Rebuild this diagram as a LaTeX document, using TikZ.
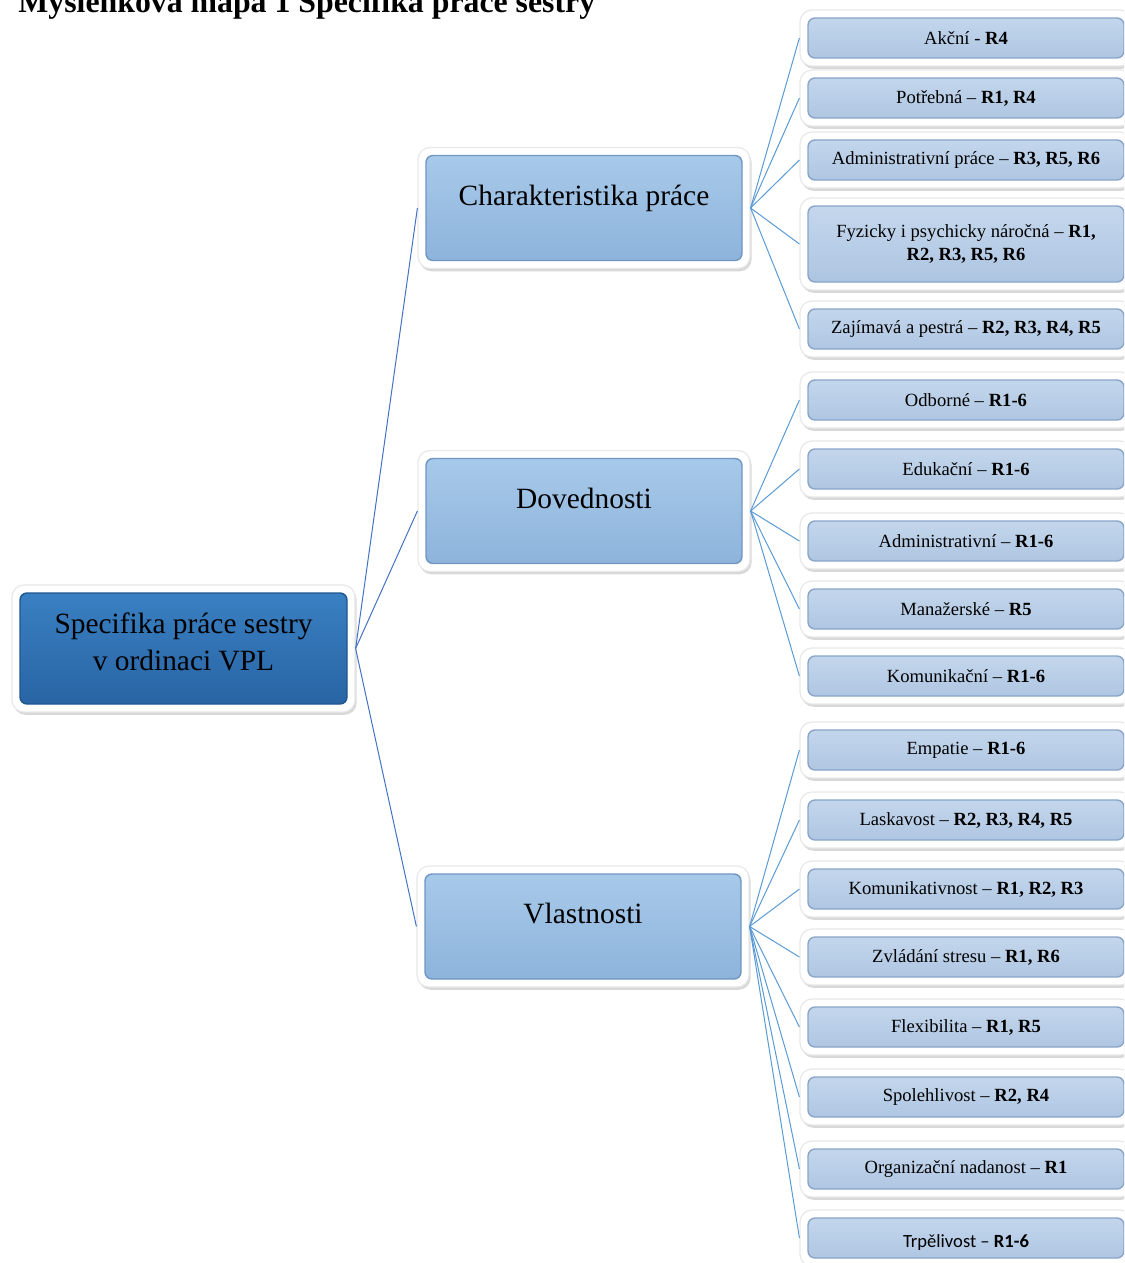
\documentclass[tikz,border=0pt]{standalone}
\usepackage{fontspec}
\setmainfont{Liberation Serif}
\newfontfamily\calibri{Carlito}
\usepackage{xcolor}
\usepackage{tikz}
\usetikzlibrary{shadows}

\definecolor{rootTop}{HTML}{3B82C4}
\definecolor{rootBot}{HTML}{2762A2}
\definecolor{rootLine}{HTML}{1F5690}
\definecolor{mainTop}{HTML}{A9CBEB}
\definecolor{mainBot}{HTML}{8CB2DA}
\definecolor{mainLine}{HTML}{7096C2}
\definecolor{leafTop}{HTML}{C7D9EE}
\definecolor{leafBot}{HTML}{ABC3E0}
\definecolor{leafLine}{HTML}{8AA5C8}
\definecolor{linkA}{HTML}{4472C4}
\definecolor{linkB}{HTML}{5B9BD5}

\begin{document}
\begin{tikzpicture}[x=0.5pt, y=-0.5pt,
  frame/.style={fill=white, draw=black!9, line width=0.6pt, rounded corners=6pt, align=center, inner sep=2pt,
    drop shadow={opacity=0.3, shadow xshift=0.8pt, shadow yshift=-1.4pt}},
  inset/.style n args={3}{path picture={
    \draw[rounded corners=3.5pt, top color=#1, bottom color=#2, draw=#3, line width=0.7pt]
      ([shift={(4pt,4pt)}]path picture bounding box.south west) rectangle
      ([shift={(-4pt,-4pt)}]path picture bounding box.north east);}},
  rootbox/.style={frame, inset={rootTop}{rootBot}{rootLine}, minimum width=171.5pt, minimum height=63.5pt,
    font=\fontsize{14.7}{18.5}\selectfont},
  mainbox/.style={frame, inset={mainTop}{mainBot}{mainLine}, minimum width=166pt, minimum height=60.5pt,
    font=\fontsize{14.7}{18}\selectfont, text height=10pt, text depth=13pt},
  leaf/.style={frame, inset={leafTop}{leafBot}{leafLine}, minimum width=166pt, minimum height=28pt,
    font=\fontsize{9.3}{11.5}\selectfont},
  link/.style={draw=linkA, line width=0.5pt},
  twig/.style={draw=linkB, line width=0.5pt}]
  \path[use as bounding box, fill=white] (0,0) rectangle (1124,1263);
  \clip (0,0) rectangle (1124,1263);

  \node[anchor=base west, inner sep=0pt, font=\bfseries\fontsize{15.9}{19}\selectfont] (title) at (18,13) {Myšlenková mapa 1 Specifika práce sestry};

  % root and the three branches
  \node[rootbox] (root) at (183.5,648.5) {\raisebox{-1.5pt}[0pt][0pt]{\begin{tabular}{@{}c@{}}Specifika práce sestry\\v ordinaci VPL\end{tabular}}};
  \node[mainbox] (char) at (584,208) {Charakteristika práce};
  \node[mainbox] (dov) at (584,511) {Dovednosti};
  \node[mainbox] (vl) at (583,926.5) {Vlastnosti};

  % leaves
  \node[leaf] (c1) at (966,38) {Akční - \textbf{R4}};
  \node[leaf] (c2) at (966,98) {Potřebná -- \textbf{R1, R4}};
  \node[leaf] (c3) at (966,160) {Administrativní práce -- \textbf{R3, R5, R6}};
  \node[leaf, minimum height=46pt] (c4) at (966,244) {Fyzicky i psychicky náročná -- \textbf{R1,}\\\textbf{R2, R3, R5, R6}};
  \node[leaf] (c5) at (966,329) {Zajímavá a pestrá -- \textbf{R2, R3, R4, R5}};
  \node[leaf] (d1) at (966,400) {Odborné -- \textbf{R1-6}};
  \node[leaf] (d2) at (966,469) {Edukační -- \textbf{R1-6}};
  \node[leaf] (d3) at (966,541) {Administrativní -- \textbf{R1-6}};
  \node[leaf] (d4) at (966,609) {Manažerské -- \textbf{R5}};
  \node[leaf] (d5) at (966,676) {Komunikační -- \textbf{R1-6}};
  \node[leaf] (v1) at (966,750) {Empatie -- \textbf{R1-6}};
  \node[leaf] (v2) at (966,820) {Laskavost -- \textbf{R2, R3, R4, R5}};
  \node[leaf] (v3) at (966,889) {Komunikativnost -- \textbf{R1, R2, R3}};
  \node[leaf] (v4) at (966,957) {Zvládání stresu -- \textbf{R1, R6}};
  \node[leaf] (v5) at (966,1027) {Flexibilita -- \textbf{R1, R5}};
  \node[leaf] (v6) at (966,1097) {Spolehlivost -- \textbf{R2, R4}};
  \node[leaf] (v7) at (966,1169) {Organizační nadanost -- \textbf{R1}};
  \node[leaf, font=\calibri\fontsize{9.3}{11.5}\selectfont] (v8) at (966,1238) {\raisebox{-2.5pt}[6.5pt][2pt]{Trpělivost – \textbf{R1-6}}};

  \draw[link] (root.east) -- (char.west); \draw[link] (root.east) -- (dov.west); \draw[link] (root.east) -- (vl.west);
  \draw[twig] (char.east) -- (c1.west); \draw[twig] (char.east) -- (c2.west); \draw[twig] (char.east) -- (c3.west);
  \draw[twig] (char.east) -- (c4.west); \draw[twig] (char.east) -- (c5.west);
  \draw[twig] (dov.east) -- (d1.west); \draw[twig] (dov.east) -- (d2.west); \draw[twig] (dov.east) -- (d3.west);
  \draw[twig] (dov.east) -- (d4.west); \draw[twig] (dov.east) -- (d5.west);
  \draw[twig] (vl.east) -- (v1.west); \draw[twig] (vl.east) -- (v2.west); \draw[twig] (vl.east) -- (v3.west);
  \draw[twig] (vl.east) -- (v4.west); \draw[twig] (vl.east) -- (v5.west); \draw[twig] (vl.east) -- (v6.west);
  \draw[twig] (vl.east) -- (v7.west); \draw[twig] (vl.east) -- (v8.west);
\end{tikzpicture}
\end{document}
